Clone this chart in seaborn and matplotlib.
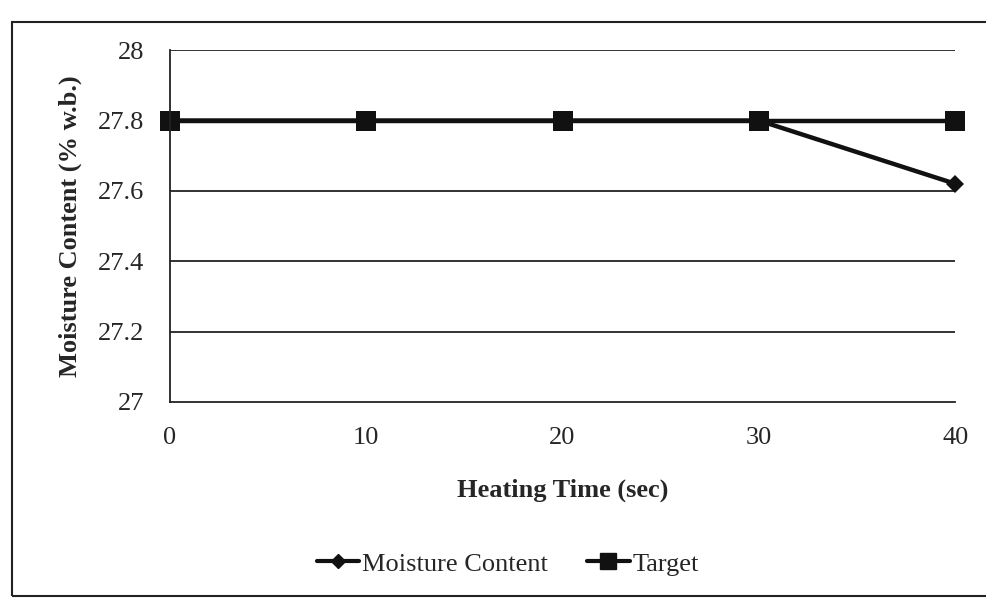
import matplotlib
matplotlib.use("Agg")
import matplotlib.pyplot as plt
import seaborn as sns
import pandas as pd
from matplotlib.patches import Rectangle
from matplotlib.lines import Line2D

heating_time = [0, 10, 20, 30, 40]
moisture_content = [27.8, 27.8, 27.8, 27.8, 27.62]
target = [27.8, 27.8, 27.8, 27.8, 27.8]
y_ticks = [27, 27.2, 27.4, 27.6, 27.8, 28]
y_tick_labels = ["27", "27.2", "27.4", "27.6", "27.8", "28"]

df = pd.DataFrame({
    "time": heating_time * 2,
    "value": moisture_content + target,
    "series": ["Moisture Content"] * len(heating_time) + ["Target"] * len(heating_time),
})

sns.set_theme(style="white")
plt.rcParams["font.family"] = ["Liberation Serif", "DejaVu Serif"]

fig = plt.figure(figsize=(9.86, 5.98), dpi=100)
ax = fig.add_axes([0.172, 0.328, 0.797, 0.588])

sns.lineplot(data=df, x="time", y="value", hue="series", style="series",
             palette={"Moisture Content": "#111111", "Target": "#111111"},
             markers={"Moisture Content": "D", "Target": "s"},
             dashes=False, linewidth=3.2, markeredgewidth=0,
             ax=ax, legend=False)
for line, ms in zip(ax.lines, [9, 14]):
    line.set_markersize(ms)
    line.set_clip_on(False)

ax.set_xlim(0, 40)
ax.set_ylim(27, 28)
ax.set_xticks(heating_time)
ax.set_xticklabels([str(t) for t in heating_time], fontsize=19)
ax.set_yticks(y_ticks)
ax.set_yticklabels(y_tick_labels, fontsize=19)
ax.tick_params(axis="both", length=0)
ax.tick_params(axis="x", pad=18)
ax.tick_params(axis="y", pad=18)
for yv in y_ticks[1:]:
    ax.axhline(yv, color="#222222", linewidth=1.3, zorder=0)
for s in ["top", "right"]:
    ax.spines[s].set_visible(False)
for s in ["left", "bottom"]:
    ax.spines[s].set_color("#222222")
    ax.spines[s].set_linewidth(1.3)

ax.set_xlabel("Heating Time (sec)", fontsize=19, fontweight="bold")
ax.xaxis.set_label_coords(0.5, -0.218)
ax.set_ylabel("Moisture Content (% w.b.)", fontsize=19, fontweight="bold", labelpad=12)

handles = [
    Line2D([], [], color="#111111", linewidth=3, marker="D", markersize=7, label="Moisture Content"),
    Line2D([], [], color="#111111", linewidth=3, marker="s", markersize=11, label="Target"),
]
fig.legend(handles=handles, loc="center", bbox_to_anchor=(0.515, 0.057), ncol=2,
           frameon=False, fontsize=19, handlelength=1.6, handletextpad=0.1,
           columnspacing=1.5)

fig.patches.append(Rectangle((0.012, 0.003), 0.99, 0.96, transform=fig.transFigure,
                             fill=False, edgecolor="#222222", linewidth=1.5))

fig.savefig("out.png", dpi=100)
